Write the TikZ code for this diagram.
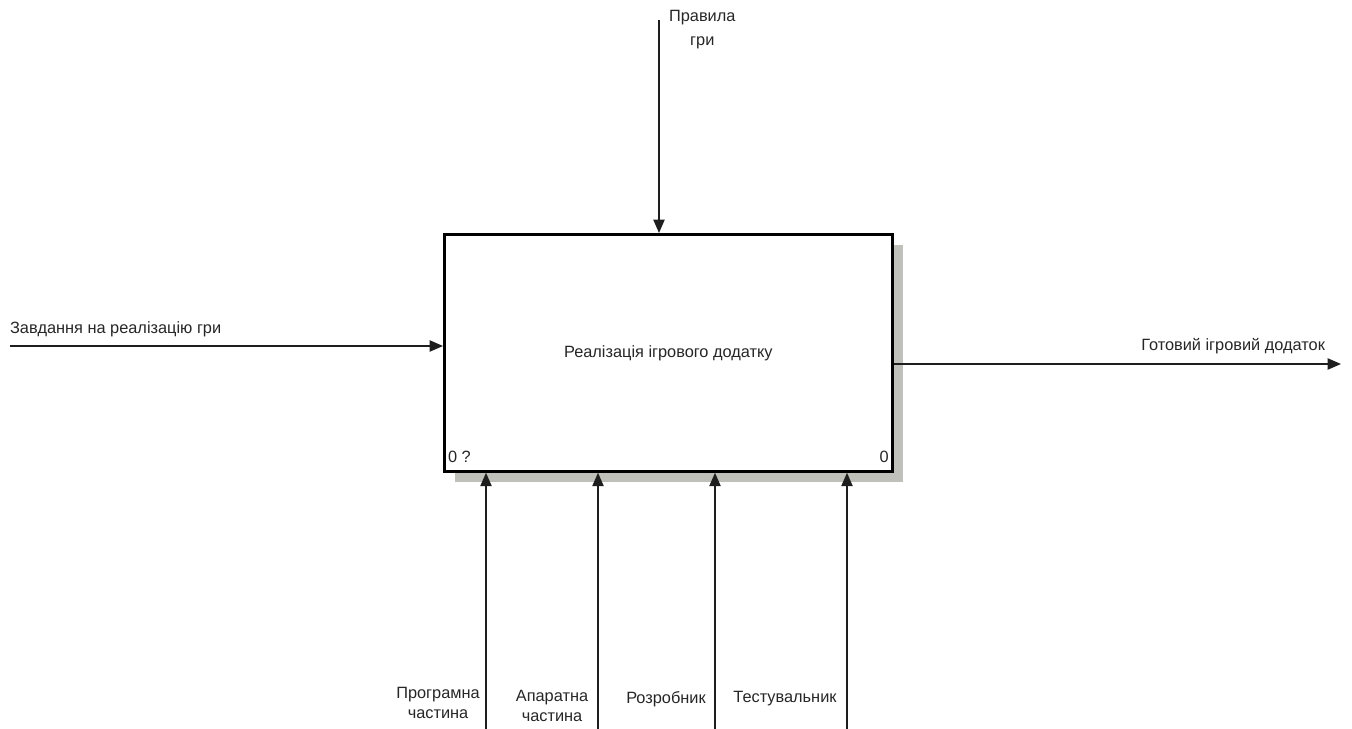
\documentclass[tikz,border=0pt]{standalone}
\usepackage{fontspec}
\setmainfont{Liberation Sans}
\usetikzlibrary{arrows.meta, positioning, calc, backgrounds}
\definecolor{cShadow}{RGB}{192,192,186}
\definecolor{cLine}{RGB}{30,30,30}
\tikzset{
	fnbox/.style   ={rectangle, draw=black, line width=1.6pt, fill=white, inner sep=0pt},
	shdbox/.style  ={rectangle, fill=cShadow, inner sep=0pt},
	icom/.style    ={-{Triangle[length=7.6pt, width=6.4pt]}, line width=0.8pt, draw=cLine},
	lbl/.style     ={font=\fontsize{9.3}{11}\selectfont, inner sep=1pt, align=center, text=black!85},
}

\begin{document}
\begin{tikzpicture}[x=0.02cm, y=-0.02cm]
			\useasboundingbox (0,0) rectangle (1352,729);
			% activity box and its shadow
			\node[shdbox, minimum width=8.96cm, minimum height=4.74cm, anchor=north west] (shd) at (455,245) {};
			\node[fnbox, minimum width=8.96cm, minimum height=4.74cm, anchor=north west, lbl] (fn) at (443,233) {Реалізація ігрового додатку};
			\node[lbl, anchor=south west] (num) at ($(fn.south west)+(3,-8)$) {0 ?};
			\node[lbl, anchor=south east] (nr) at ($(fn.south east)+(-3,-8)$) {0};
			% control
			\coordinate (ctl) at (659,20);
			\node[lbl, font=\fontsize{9.3}{13.6}\selectfont, anchor=north west] (ctltxt) at (667,8) {Правила\\гри};
			\draw[icom] (ctl) -- (ctl |- fn.north);
			% input
			\coordinate (inp) at (10,346);
			\node[lbl, anchor=south west] (inptxt) at (8,339) {Завдання на реалізацію гри};
			\draw[icom] (inp) -- (inp -| fn.west);
			% output
			\coordinate (outp) at (1341,364);
			\node[lbl, anchor=south east] (outtxt) at (1327,356) {Готовий ігровий додаток};
			\draw[icom] (fn.east |- outp) -- (outp);
			% mechanisms
			\coordinate (m1) at (486,729);
			\coordinate (m2) at (598,729);
			\coordinate (m3) at (715,729);
			\coordinate (m4) at (847,729);
			\draw[icom] (m1) -- (m1 |- fn.south);
			\draw[icom] (m2) -- (m2 |- fn.south);
			\draw[icom] (m3) -- (m3 |- fn.south);
			\draw[icom] (m4) -- (m4 |- fn.south);
			\node[lbl] (m1txt) at (438,703) {Програмна\\частина};
			\node[lbl] (m2txt) at (552,706) {Апаратна\\частина};
			\node[lbl] (m3txt) at (666,699) {Розробник};
			\node[lbl] (m4txt) at (785,699) {Тестувальник};
		\end{tikzpicture}
\end{document}
